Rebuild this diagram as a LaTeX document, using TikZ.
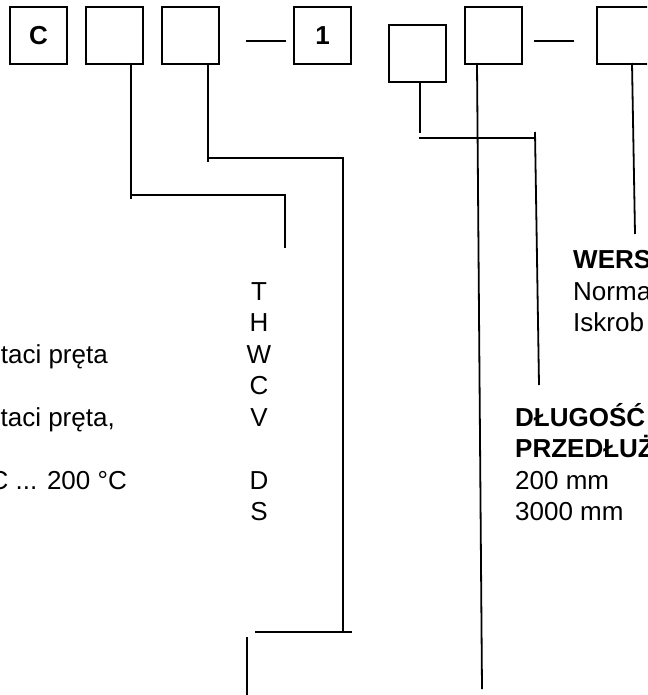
\documentclass[tikz,border=0pt]{standalone}
\usepackage{fontspec}
\setmainfont{Liberation Sans}
\begin{document}
\begin{tikzpicture}[x=1pt,y=-1pt,
  box/.style={draw,line width=2pt,minimum width=57pt,minimum height=57pt,inner sep=0pt,anchor=north west,font=\bfseries\fontsize{26}{31}\selectfont},
  txt/.style={inner sep=0pt,font=\fontsize{26}{31}\selectfont},
  btxt/.style={txt,font=\bfseries\fontsize{26}{31}\selectfont},
  conn/.style={line width=1.8pt}]
\useasboundingbox (0,0) rectangle (647,695);
\clip (0,0) rectangle (647,695);
% boxes
\node[box] (bc) at (9,6) {C};
\node[box] (b2) at (84.5,6) {};
\node[box] (b3) at (160.5,6) {};
\node[box] (b1) at (293,6) {1};
\node[box] (b4) at (388,24) {};
\node[box] (b5) at (464,6) {};
\node[box] (b6) at (596,6) {};
% dashes
\coordinate (d1a) at (246,41); \coordinate (d1b) at (286,41);
\coordinate (d2a) at (534,41); \coordinate (d2b) at (574,41);
\draw[conn] (d1a) -- (d1b);
\draw[conn] (d2a) -- (d2b);
% connector points
\coordinate (p2) at (131,63);
\coordinate (p3) at (208,63);
\coordinate (p4) at (420,81);
\coordinate (p5) at (477,63);
\coordinate (p6) at (632,63);
% box 2 path
\coordinate (q2a) at (131,199);
\coordinate (q2b) at (131,195);
\coordinate (q2c) at (285,195);
\coordinate (q2d) at (285,248);
\draw[conn] (p2) -- (q2a);
\draw[conn] (q2b) -- (q2c) -- (q2d);
% box 3 path
\coordinate (q3a) at (208,162);
\coordinate (q3b) at (208,158);
\coordinate (q3c) at (343,158);
\coordinate (q3d) at (343,632);
\coordinate (q3e) at (255,632);
\coordinate (q3f) at (352,632);
\coordinate (q3g) at (247,637);
\coordinate (q3h) at (247,695);
\draw[conn] (p3) -- (q3a);
\draw[conn] (q3b) -- (q3c) -- (q3d);
\draw[conn] (q3e) -- (q3f);
\draw[conn] (q3g) -- (q3h);
% box 4 path
\coordinate (q4a) at (420,133);
\coordinate (q4b) at (419,138);
\coordinate (q4c) at (535,138);
\coordinate (q4d) at (535,132);
\coordinate (q4e) at (539,385);
\draw[conn] (p4) -- (q4a);
\draw[conn] (q4b) -- (q4c);
\draw[conn] (q4d) -- (q4e);
% box 5 path
\coordinate (q5a) at (482,689);
\draw[conn] (p5) -- (q5a);
% box 6 path
\coordinate (q6a) at (635,234);
\draw[conn] (p6) -- (q6a);
% letter column
\node[txt,anchor=base] (lT) at (259,300) {T};
\node[txt,anchor=base] (lH) at (259,331) {H};
\node[txt,anchor=base] (lW) at (259,363) {W};
\node[txt,anchor=base] (lC) at (259,394) {C};
\node[txt,anchor=base] (lV) at (259,426) {V};
\node[txt,anchor=base] (lD) at (259,489) {D};
\node[txt,anchor=base] (lS) at (259,520) {S};
% left texts
\node[txt,anchor=base east] (t1) at (108,363) {taci pręta};
\node[txt,anchor=base east] (t2) at (115,426) {taci pręta,};
\node[txt,anchor=base east] (t3) at (127,489) {C ... 200 °C};
% right texts
\node[btxt,anchor=base west] (w1) at (573,268) {WERS};
\node[txt,anchor=base west] (w2) at (573,300) {Norma};
\node[txt,anchor=base west] (w3) at (573,331) {Iskrob};
\node[btxt,anchor=base west] (r1) at (515,426) {DŁUGOŚĆ};
\node[btxt,anchor=base west] (r2) at (515,457) {PRZEDŁUŻ};
\node[txt,anchor=base west] (r3) at (515,489) {200 mm};
\node[txt,anchor=base west] (r4) at (515,520) {3000 mm};
\end{tikzpicture}
\end{document}
